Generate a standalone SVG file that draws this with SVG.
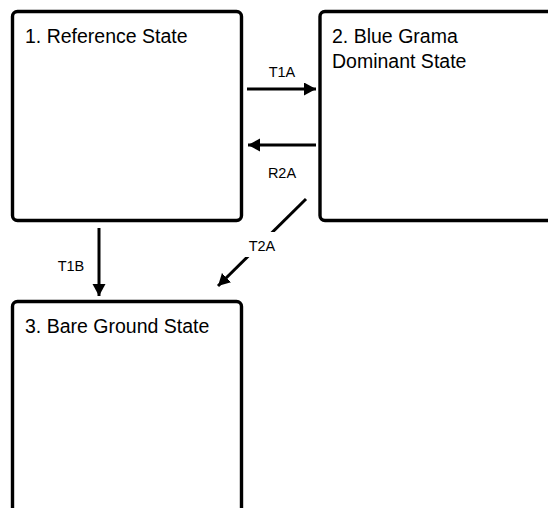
<svg xmlns="http://www.w3.org/2000/svg" width="548" height="508" viewBox="0 0 548 508">
<style>
.box{fill:#fff;stroke:#000;stroke-width:3.4}
.title{font-family:"Liberation Sans",Arial,sans-serif;font-size:19.5px;fill:#000}
.lbl{font-family:"Liberation Sans",Arial,sans-serif;font-size:14.5px;fill:#000;text-anchor:middle}
.conn{stroke:#000;stroke-width:3;fill:none}
</style>
<defs>
<marker id="ah" markerUnits="userSpaceOnUse" markerWidth="14" markerHeight="14" refX="12" refY="6.5" orient="auto">
<path d="M0,0 L12,6.5 L0,13 Z" fill="#000"/>
</marker>
</defs>
<rect width="548" height="508" fill="#fff"/>
<g id="node1">
<rect class="box" x="12.5" y="11.5" width="229" height="209" rx="5"/>
<text class="title" x="25" y="43">1. Reference State</text>
</g>
<g id="node2">
<rect class="box" x="320" y="11.5" width="232" height="209" rx="5"/>
<text class="title" x="332" y="43">2. Blue Grama</text>
<text class="title" x="332" y="68">Dominant State</text>
</g>
<g id="node3">
<rect class="box" x="12.5" y="301.5" width="229" height="212" rx="5"/>
<text class="title" x="25" y="333">3. Bare Ground State</text>
</g>
<g id="connectors">
<line class="conn" x1="247" y1="89" x2="316" y2="89" marker-end="url(#ah)"/>
<text class="lbl" x="282" y="77">T1A</text>
<line class="conn" x1="316" y1="145" x2="248" y2="145" marker-end="url(#ah)"/>
<text class="lbl" x="282" y="178">R2A</text>
<line class="conn" x1="99" y1="228" x2="99" y2="296" marker-end="url(#ah)"/>
<text class="lbl" x="71" y="271">T1B</text>
<line class="conn" x1="306" y1="199" x2="218" y2="286" marker-end="url(#ah)"/>
<rect x="244" y="232" width="36" height="25" fill="#fff"/>
<text class="lbl" x="262" y="251">T2A</text>
</g>
</svg>
